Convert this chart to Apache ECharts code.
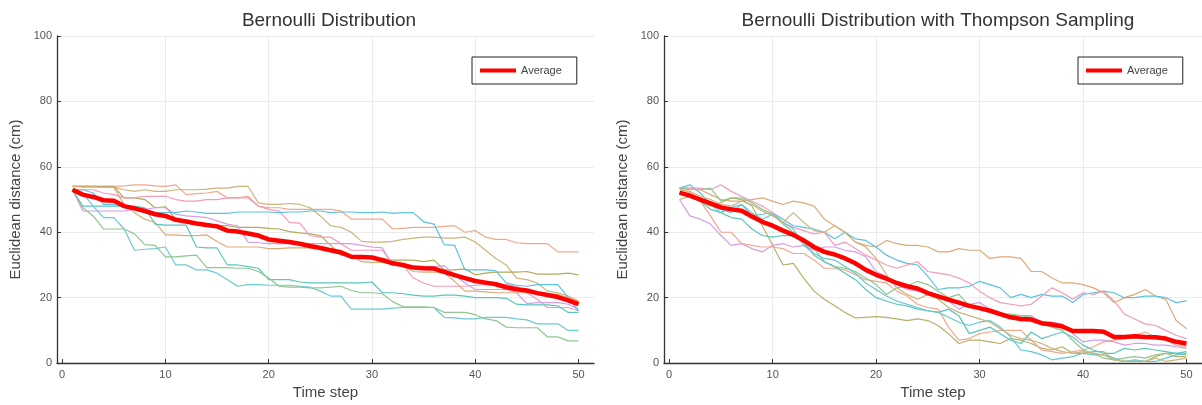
<!DOCTYPE html>
<html>
<head>
<meta charset="utf-8">
<script src="https://cdn.jsdelivr.net/npm/echarts@6.0.0/dist/echarts.min.js"></script>
<style>
  html, body { margin: 0; padding: 0; background: #fff; }
  #chart { width: 1202px; height: 405px; }
</style>
</head>
<body>
<div id="chart"></div>
<script>
// time steps 1..50
const timeSteps = [1,2,3,4,5,6,7,8,9,10,11,12,13,14,15,16,17,18,19,20,21,22,23,24,25,26,27,28,29,30,31,32,33,34,35,36,37,38,39,40,41,42,43,44,45,46,47,48,49,50];
const xTicks = [0, 10, 20, 30, 40, 50];

// left panel: Bernoulli Distribution
const bernRun1 = [54,54,54,54,54,54.2,54.5,54.5,54.2,54, 54.5,51.5,51.8,52,52.5,50.5,50.5,51,48,47.5, 47.5,47,47,47,47,47,46.5,44,44,44, 44,41,41.2,41.5,41.5,41.5,41.8,42,40,40.5, 38.5,37.8,37.8,36.8,36.5,36.5,36.5,34,34,34];
const bernRun2 = [54,54,54,53.8,53.8,53,52.5,53,52.5,52.5, 53,53,53,53.2,53.5,53.5,54,54,49,48.5, 48.5,48.8,48.5,47.5,45,42,41.5,40,37.2,37, 37,37.2,37.8,38.2,38.5,38.5,38.2,38.2,38.5,37, 34.5,32,30,26,25.5,24.5,22,21.5,20.5,19];
const bernRun3 = [54,54,54,54,54,50.5,50.5,50,47.5,47.8, 44,43.5,42.5,42.5,42,42,41.5,41.5,41.5,41.2, 41,40.2,39.8,39.5,39,36,33,32.5,32.5,32, 32,31.5,31.5,31.5,31,31.5,28.5,28.5,28.8,27, 27.5,27.8,27.8,27.8,28,27.2,27.2,27.2,27.5,27];
const bernRun4 = [53,53,53,52,51.5,50.5,50.5,51,51,51, 50,49.5,49.5,50,50,50.5,50.5,50.5,48,47, 46.5,43,42.8,39,38.5,38.5,36.5,34.5,34.5,34.5, 34.5,30.5,30,26,24.5,23.5,23.5,23.5,23.5,23.8, 24,24,24,23.5,21.5,19.5,17,17,17,16];
const bernRun5 = [53,46.5,46.5,46.5,46.5,46.5,47,47,47.5,47.5, 45.5,45,44.8,44.5,43.5,42.5,42,37,36.8,36.5, 36.5,36.5,36.5,36.5,36.5,36.5,36.5,36.5,36,35.5, 35.2,30,29.8,29.5,29.5,29.5,29.8,27,24.5,22.5, 22.5,22.5,22.5,21.5,18.2,18.5,18.5,18.5,18,16.5];
const bernRun6 = [54,53.8,53.8,53.8,53.8,48.5,46,44,43,39.2, 39.2,39,39,39.2,37.2,35.5,35.5,35.5,35.5,35, 35,35.2,35.2,35.2,35,35,34.5,33,31,30.8, 30.8,30.5,29.5,28,27.8,27.8,27.5,25,22,22, 21.8,21.5,21.5,21.5,21.5,21.5,21.2,21,20,19];
const bernRun7 = [53,53,52,48.5,48.5,47.5,47.5,46.5,46,46, 46,46.5,46.2,45.8,45.8,45.8,46.2,46.2,46.2,46.2, 46,46.2,46.2,46.5,46.5,46,46.2,46.2,46,46, 46.2,45.8,46,46,43.2,42.5,36.2,36,28.5,28.5, 28.5,28.2,24.5,23.8,23.5,24,24,24,20,16];
const bernRun8 = [53,48,48,48,48,48,48,47.5,42.5,42.2, 42.2,42.2,35.5,35.2,35.2,30,30,29.5,29,25.5, 25.5,25.5,24.8,24.5,24.5,24.5,24.5,24.5,24.5,24.8, 21.5,21.5,21.2,20.8,20.5,20.5,20.8,20.8,20.5,20, 20,20,19.8,18,17.8,17.8,17.8,17.5,15.5,15.5];
const bernRun9 = [53,52,48,44.5,44.5,41,34.5,34.8,35,35.5, 30,30,28.5,28.5,27.5,25.5,23.5,24,24,23.8, 23.8,23.8,23.5,23.2,22,20.5,20.5,16.5,16.5,16.5, 16.5,16.8,17,17,17,17,14,13.8,13.5,13.5, 14,14,14,13.5,13.2,12,12,12,10,10];
const bernRun10 = [53,47.5,45,41,41,41,39.5,36.2,36,32.5, 32.5,32.8,33,29.2,29.2,29.2,29,29,28,26, 23.5,23.2,23.2,23,23,23.2,23.5,22.2,21.5,21.5, 21.2,18.8,17.2,17.2,17.2,17,15.5,15.5,15.5,14.8, 13.5,13,11,10.8,10.8,10.8,8,8,6.8,6.8];
const bernAverage = [53,51.5,50.8,49.8,49.6,48,47.3,46.5,45.5,45, 43.8,43.3,42.7,42.2,41.8,40.5,40.2,39.6,39,37.8, 37.4,37,36.5,35.8,35.2,34.5,33.8,32.5,32.4,32.3, 31.5,30.5,30,29.2,29,28.9,27.9,26.9,26,25.1, 24.6,24.1,23.2,22.6,22.2,21.4,20.8,20.2,19.2,18];

// right panel: Bernoulli Distribution with Thompson Sampling
const thompRun1 = [53.5,53.5,53,51.5,50,49.5,49.5,50,50.5,49.5, 48.5,49.5,49,48,44,42,40,37,36,35.5, 37.5,36.5,36,36,35.5,34,34,35,34.5,34.5, 32,32.5,32.5,32,28,28,26,24.5,24.5,24, 23,21.5,18.5,20,21,22.5,20.5,19.5,13,10.5];
const thompRun2 = [53.5,54.5,52,48.5,46,47.5,48.5,45,45.5,46, 44,42,41.5,41,40,38,40,38,37.5,35.5, 33,31.5,30.5,30,26.5,22.5,23,23,23.5,25, 24,23,20,21,20,21,20.5,20.5,18.5,21, 21.5,22,21.5,20,20,20.5,20.5,20,18.5,19];
const thompRun3 = [53.5,53.5,53.5,53,54.5,52.5,51,49.5,48,46, 43,41.5,40.5,39.5,40,36,37,35,33,31.5, 30,29,30,31,28,27.5,27,26,24.5,22, 20,18.5,18,17.5,18,20.5,23,21.5,19.5,21.5, 21,22,19,15,13.5,12,11.5,10,8.5,7.5];
const thompRun4 = [50,51,49.5,48,49,50.5,50,48,42,36, 30,30.5,26,22,19.5,17.5,15.5,13.8,14,14.2, 14,13.5,13,13.5,13,11.5,9,6,7,7, 6.5,6,7.5,7,6,4.5,4,5,3,3, 3.5,3.5,1,0.5,0.5,0.5,2,3,2,2];
const thompRun5 = [50,45,44,42.5,39,36,36.5,35,34,36, 36.5,35.5,36,34.5,35.5,35.5,34.5,34,32.5,28, 26.5,24,22.5,22,21.5,20,19,16.5,18,18.5, 16.5,15.5,14.5,14.5,14.5,12.5,12.5,12,9,6.5, 7,7,6.5,5.5,6,6,5.5,5.5,5,4.5];
const thompRun6 = [53.5,52,49.5,45,40,40,36.5,36,35.5,35.5, 35,33.5,33.5,31.5,29,29,28.5,27,25.5,25, 24.5,22,20.5,18,17,16.5,11,7,7.5,9, 9.5,10,10,10,7,4,3.5,3,3.5,4, 5,6.5,7,7.5,8.5,9.5,8,7,5.5,5];
const thompRun7 = [53.5,53,53,53.5,49.5,50.5,50.5,49,47,45.5, 42.5,40,38,35,31,29.5,29,28,26,24, 21,23,23.5,25,24,22,20,21,17.5,17, 16,15,15,14.5,14,12,11,10,7,4, 3,1.5,1,1.5,2,1.5,2.5,3,3,2.5];
const thompRun8 = [52,51,49.5,47,46,44.5,44,41,39,38.5, 39,39,37,33,31,29.5,27.5,25.5,22.5,20, 19,18,17.5,16.5,16,15.5,16.5,14.5,9,10, 11,9,7,6,9.5,7.5,8.5,9.5,8,5.5, 4,3,3,4.5,4,4.5,4,3.5,3,3.5];
const thompRun9 = [52,51.5,50,48.5,47,46,48.5,46,44,45.5, 43,41,36,33.5,32,31.5,29.5,27.5,24.5,22.5, 20.5,19,18,17,16,15.5,14,12.5,11.5,12.5, 13,11,8,4,3.5,2.5,1,1.5,2,3, 2.5,2.5,1.5,0.5,1,0.5,0.5,1.5,2.5,3];
const thompRun10 = [53,52.5,51,50,48.5,48,49.5,48.5,46.5,45, 43,46,43,40.5,40,42,40,37,35.5,32, 27,23,21,19.5,21,19.5,17,15.5,14.5,13.5, 12.5,10.5,8.5,7.5,7,6,4.5,3.5,3,3.5, 3,2.5,1,0.5,0.5,0.5,1.5,0.5,1,1.5];
const thompAverage = [52.1,51.2,50,48.8,47.6,47,46.6,44.8,43.2,42, 40.5,39.2,37.5,35.5,34,33.2,32,30.5,28.5,27, 25.8,24.5,23.5,22.8,21.4,20.4,19.4,18.5,17.5,16.8, 16,15,14,13.5,13.3,12.2,11.8,11.2,9.8,9.8, 9.8,9.6,8,8,8.2,8,7.9,7.5,6.5,6];

const bernRuns = [bernRun1, bernRun2, bernRun3, bernRun4, bernRun5, bernRun6, bernRun7, bernRun8, bernRun9, bernRun10];
const thompRuns = [thompRun1, thompRun2, thompRun3, thompRun4, thompRun5, thompRun6, thompRun7, thompRun8, thompRun9, thompRun10];

// faded run colours (same order as the run arrays)
const bernColors = ['#F2A78E', '#CDB47C', '#B2AC5C', '#F49BB9', '#D59CE6', '#DDAB78', '#5CC2E0', '#5CC6BE', '#6ACBD3', '#8FC78E'];
const thompColors = ['#DDAB78', '#5CC2E0', '#F49BB9', '#B8B068', '#D59CE6', '#F2A78E', '#8FC78E', '#5CC6BE', '#62C8D4', '#CDB47C'];

const FONT = 'Liberation Sans, Arial, sans-serif';

function toPoints(values) {
  return timeSteps.map((t, i) => [t, values[i]]);
}

function runSeries(values, color, idx, i) {
  return {
    name: 'run ' + (i + 1),
    type: 'line',
    xAxisIndex: idx, yAxisIndex: idx,
    data: toPoints(values),
    symbol: 'none',
    lineStyle: { color: color, width: 1.2 },
    itemStyle: { color: color },
    z: 2,
    silent: true
  };
}

function avgSeries(values, idx) {
  return {
    name: 'Average',
    type: 'line',
    xAxisIndex: idx, yAxisIndex: idx,
    data: toPoints(values),
    symbol: 'none',
    lineStyle: { color: '#FF0000', width: 4.5 },
    itemStyle: { color: '#FF0000' },
    z: 5,
    silent: true
  };
}

function xAxisFor(idx) {
  return {
    gridIndex: idx,
    type: 'value',
    min: -0.5, max: 51.5,
    splitNumber: 5,
    name: 'Time step',
    nameLocation: 'middle',
    nameGap: 20,
    nameTextStyle: { fontSize: 15, color: '#444', fontFamily: FONT },
    axisLine: { show: true, onZero: false, lineStyle: { color: '#333', width: 1.3 } },
    axisTick: { show: true, inside: true, length: 4, lineStyle: { color: '#333' }, customValues: xTicks },
    axisLabel: { color: '#555', fontSize: 11, fontFamily: FONT, margin: 6, customValues: xTicks },
    splitLine: { show: true, showMinLine: false, showMaxLine: false, lineStyle: { color: '#ebebeb', width: 1 } }
  };
}

function yAxisFor(idx) {
  return {
    gridIndex: idx,
    type: 'value',
    min: 0, max: 100, interval: 20,
    name: 'Euclidean distance (cm)',
    nameLocation: 'middle',
    nameGap: 34,
    nameTextStyle: { fontSize: 15, color: '#444', fontFamily: FONT },
    axisLine: { show: true, onZero: false, lineStyle: { color: '#333', width: 1.3 } },
    axisTick: { show: true, inside: true, length: 4, lineStyle: { color: '#333' } },
    axisLabel: { color: '#555', fontSize: 11, fontFamily: FONT, margin: 5 },
    splitLine: { show: true, showMinLine: false, lineStyle: { color: '#ebebeb', width: 1 } }
  };
}

function legendFor(left) {
  return {
    data: ['Average'],
    left: left, top: 57,
    icon: 'rect',
    itemWidth: 36, itemHeight: 4,
    padding: [8, 15, 8, 8],
    borderColor: '#222', borderWidth: 1, borderRadius: 0,
    selectedMode: false,
    textStyle: { fontSize: 11, color: '#444', fontFamily: FONT }
  };
}

const series = [];
bernRuns.forEach((r, i) => series.push(runSeries(r, bernColors[i], 0, i)));
series.push(avgSeries(bernAverage, 0));
thompRuns.forEach((r, i) => series.push(runSeries(r, thompColors[i], 1, i)));
series.push(avgSeries(thompAverage, 1));

const chart = echarts.init(document.getElementById('chart'), null, { renderer: 'canvas' });
chart.setOption({
  animation: false,
  backgroundColor: '#fff',
  title: [
    { text: 'Bernoulli Distribution', left: 324, top: 6, textAlign: 'center',
      textStyle: { fontSize: 19, fontWeight: 'normal', color: '#333', fontFamily: FONT } },
    { text: 'Bernoulli Distribution with Thompson Sampling', left: 933, top: 6, textAlign: 'center',
      textStyle: { fontSize: 19, fontWeight: 'normal', color: '#333', fontFamily: FONT } }
  ],
  legend: [legendFor(472), legendFor(1078)],
  grid: [
    { left: 57, top: 36, width: 537, height: 330 },
    { left: 664, top: 36, width: 538, height: 330 }
  ],
  xAxis: [xAxisFor(0), xAxisFor(1)],
  yAxis: [yAxisFor(0), yAxisFor(1)],
  series: series
});
</script>
</body>
</html>
